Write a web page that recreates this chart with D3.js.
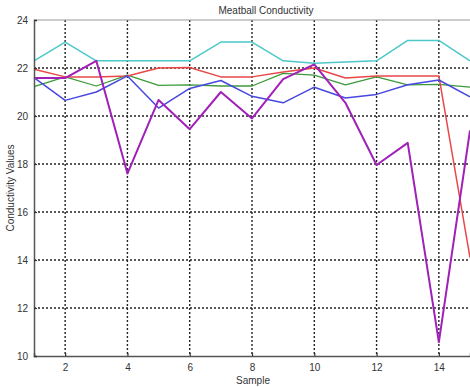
<!DOCTYPE html>
<html><head><meta charset="utf-8">
<script src="https://cdn.jsdelivr.net/npm/d3@7"></script>
<style>body{margin:0;background:#fff}svg{display:block}</style>
</head><body>
<svg id="c" width="470" height="387"></svg>
<script>
const samples = [1,2,3,4,5,6,7,8,9,10,11,12,13,14,15];
const cyan   = [22.3,23.08,22.3,22.3,22.3,22.3,23.08,23.08,22.3,22.2,22.25,22.3,23.15,23.15,22.3];
const red    = [21.95,21.63,21.63,21.67,22.0,22.02,21.63,21.63,21.83,22.0,21.58,21.67,21.67,21.67,14.1];
const green  = [21.22,21.63,21.25,21.7,21.28,21.3,21.25,21.25,21.78,21.7,21.3,21.63,21.3,21.32,21.2];
const blue   = [21.6,20.65,21.0,21.67,20.33,21.15,21.48,20.82,20.55,21.2,20.75,20.9,21.3,21.5,20.8];
const purple = [21.58,21.58,22.3,17.6,20.67,19.45,21.0,19.9,21.54,22.15,20.55,17.96,18.88,10.58,19.4];
const xTicks = [2,4,6,8,10,12,14];
const yTicks = [10,12,14,16,18,20,22,24];

const svg = d3.select("#c");
const x = d3.scaleLinear().domain([1,15]).range([34,470]);
const y = d3.scaleLinear().domain([10,24]).range([356,20]);
const font = "Liberation Sans, Arial, sans-serif";

// grid
const g = svg.append("g");
g.selectAll(".gx").data(xTicks).join("line")
  .attr("x1",d=>x(d)).attr("x2",d=>x(d)).attr("y1",y(24)).attr("y2",y(10))
  .attr("stroke","#222").attr("stroke-width",1.4).attr("stroke-dasharray","2,2");
g.selectAll(".gy").data(yTicks.filter(d=>d>10&&d<24)).join("line")
  .attr("x1",x(1)).attr("x2",470).attr("y1",d=>y(d)).attr("y2",d=>y(d))
  .attr("stroke","#222").attr("stroke-width",1.4).attr("stroke-dasharray","2,2");

// top border
svg.append("line").attr("x1",x(1)).attr("x2",470).attr("y1",y(24)).attr("y2",y(24))
  .attr("stroke","#999").attr("stroke-width",1);

// series
const line = d3.line().x((d,i)=>x(samples[i])).y(d=>y(d));
const series = [
  {v:cyan, c:"#4cc8c8", w:1.5},
  {v:green, c:"#3c9a3c", w:1.3},
  {v:red, c:"#e84848", w:1.5},
  {v:blue, c:"#4848e0", w:1.5},
  {v:purple, c:"#a020b8", w:2}
];
series.forEach(s=>{
  svg.append("path").attr("d",line(s.v)).attr("fill","none")
    .attr("stroke",s.c).attr("stroke-width",s.w).attr("stroke-linejoin","round");
});

// axes
const ax = svg.append("g").attr("transform",`translate(0,${y(10)})`)
  .call(d3.axisBottom(x).tickValues(xTicks).tickSize(-3).tickPadding(8));
const ay = svg.append("g").attr("transform",`translate(${x(1)},0)`)
  .call(d3.axisLeft(y).tickValues(yTicks).tickSize(-3).tickPadding(6));
[ax,ay].forEach(a=>{
  a.select(".domain").attr("stroke","#555").attr("stroke-width",1.5);
  a.selectAll(".tick line").attr("stroke","#333").attr("stroke-width",1.2);
  a.selectAll("text").attr("font-family",font).attr("font-size",10).attr("fill","#333");
});

// labels
svg.append("text").attr("x",266).attr("y",14).attr("text-anchor","middle")
  .attr("font-family",font).attr("font-size",10).attr("fill","#333").text("Meatball Conductivity");
svg.append("text").attr("x",253).attr("y",384).attr("text-anchor","middle")
  .attr("font-family",font).attr("font-size",10).attr("fill","#333").text("Sample");
svg.append("text").attr("transform","translate(14,188) rotate(-90)").attr("text-anchor","middle")
  .attr("font-family",font).attr("font-size",10).attr("fill","#333").text("Conductivity Values");
</script>
</body></html>
